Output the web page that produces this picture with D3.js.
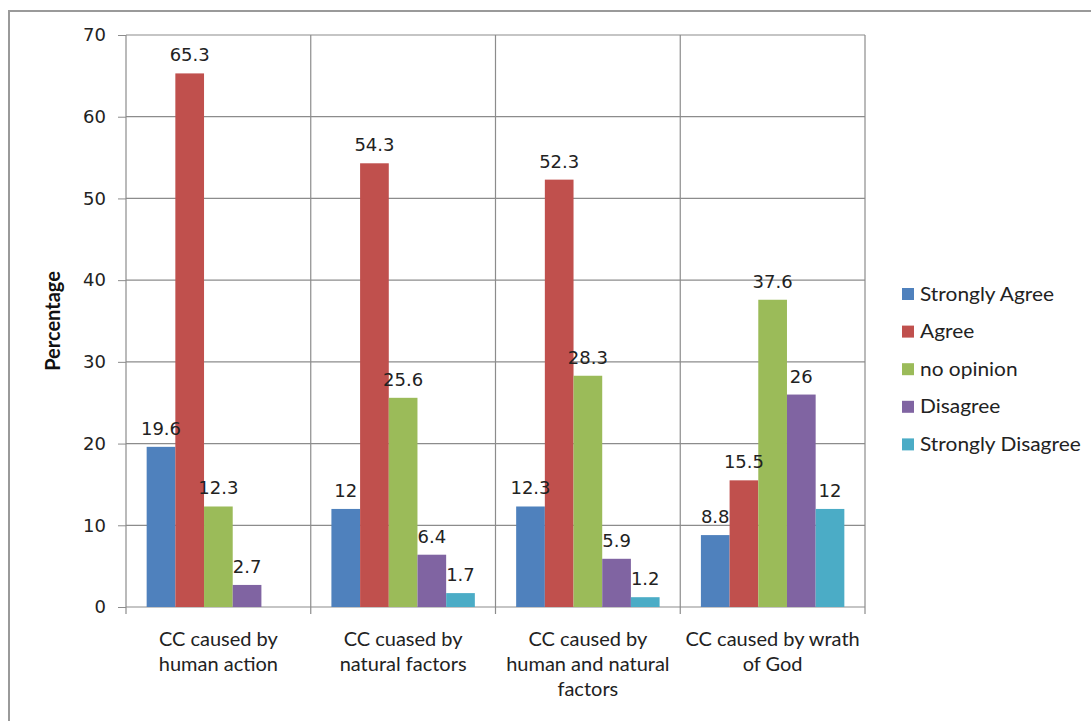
<!DOCTYPE html>
<html>
<head>
<meta charset="utf-8">
<script src="https://cdn.jsdelivr.net/npm/d3@7/dist/d3.min.js"></script>
<style>
  html, body { margin: 0; padding: 0; background: #fff; }
  svg { display: block; }
</style>
</head>
<body>
<svg id="chart" width="1091" height="721"></svg>
<script>
// Survey responses on causes of climate change (CC), in percent
const categories = [
  ["CC caused by", "human action"],
  ["CC cuased by", "natural factors"],
  ["CC caused by", "human and natural", "factors"],
  ["CC caused by wrath", "of God"]
];
const seriesNames = ["Strongly Agree", "Agree", "no opinion", "Disagree", "Strongly Disagree"];
const strongAgree    = [19.6, 12, 12.3, 8.8];
const agree          = [65.3, 54.3, 52.3, 15.5];
const noOpinion      = [12.3, 25.6, 28.3, 37.6];
const disagree       = [2.7, 6.4, 5.9, 26];
const strongDisagree = [null, 1.7, 1.2, 12];
const yTicks = [0, 10, 20, 30, 40, 50, 60, 70];
const colors = ["#4F81BD", "#C0504D", "#9BBB59", "#8064A2", "#4BACC6"];

const seriesValues = [strongAgree, agree, noOpinion, disagree, strongDisagree];

const svg = d3.select("#chart");
const plot = { left: 126, right: 865, top: 35, bottom: 607 };

// Outer frame (only top and left edges fall inside the view)
svg.append("rect")
  .attr("x", 9).attr("y", 11)
  .attr("width", 1200).attr("height", 900)
  .attr("fill", "none").attr("stroke", "#9a9a9a").attr("stroke-width", 2);

const x0 = d3.scaleBand()
  .domain(d3.range(categories.length))
  .range([plot.left, plot.right])
  .paddingInner(0).paddingOuter(0);

const x1 = d3.scaleBand()
  .domain(d3.range(seriesNames.length))
  .range([0, x0.bandwidth()])
  .paddingOuter(0.72).paddingInner(0);

const y = d3.scaleLinear().domain([0, 70]).range([plot.bottom, plot.top]);

const gridColor = "#8c8c8c";

// Horizontal gridlines with left tick marks
const yAxis = d3.axisLeft(y).tickValues(yTicks).tickSize(8).tickPadding(12).tickFormat(d3.format("d"));
const gy = svg.append("g").attr("transform", `translate(${plot.left},0)`).call(yAxis);
gy.select(".domain").remove();
gy.selectAll(".tick line").attr("stroke", gridColor);
gy.selectAll(".tick text")
  .attr("font-family", "DejaVu Sans, Verdana, sans-serif")
  .attr("font-size", 18).attr("fill", "#222");

svg.append("g").selectAll("line")
  .data(yTicks)
  .join("line")
  .attr("x1", plot.left).attr("x2", plot.right)
  .attr("y1", d => y(d)).attr("y2", d => y(d))
  .attr("stroke", gridColor).attr("stroke-width", 1.2);

// Vertical gridlines at category boundaries (extend below the axis as ticks)
const boundaries = d3.range(categories.length + 1).map(i => i < categories.length ? x0(i) : x0(categories.length - 1) + x0.bandwidth());
svg.append("g").selectAll("line")
  .data(boundaries)
  .join("line")
  .attr("x1", d => d).attr("x2", d => d)
  .attr("y1", plot.top).attr("y2", plot.bottom + 7)
  .attr("stroke", gridColor).attr("stroke-width", 1.2);

// Bars
const groups = svg.append("g").selectAll("g")
  .data(categories.map((c, i) => i))
  .join("g")
  .attr("transform", i => `translate(${x0(i)},0)`);

groups.selectAll("rect")
  .data(i => seriesValues.map((s, k) => ({ k, v: s[i] })).filter(d => d.v != null))
  .join("rect")
  .attr("x", d => x1(d.k))
  .attr("width", x1.bandwidth())
  .attr("y", d => y(d.v))
  .attr("height", d => y(0) - y(d.v))
  .attr("fill", d => colors[d.k]);

// Value labels
groups.selectAll("text")
  .data(i => seriesValues.map((s, k) => ({ k, v: s[i] })).filter(d => d.v != null))
  .join("text")
  .attr("x", d => x1(d.k) + x1.bandwidth() / 2)
  .attr("y", d => y(d.v) - 12)
  .attr("text-anchor", "middle")
  .attr("font-family", "DejaVu Sans, Verdana, sans-serif")
  .attr("font-size", 18)
  .attr("fill", "#222")
  .text(d => d.v);

// Category labels
const catLabels = svg.append("g").selectAll("text")
  .data(categories)
  .join("text")
  .attr("x", (d, i) => x0(i) + x0.bandwidth() / 2)
  .attr("y", 646)
  .attr("text-anchor", "middle")
  .attr("font-family", "Lato, sans-serif")
  .attr("font-size", 20)
  .attr("fill", "#222");
catLabels.selectAll("tspan")
  .data(d => d)
  .join("tspan")
  .attr("x", function () { return this.parentNode.getAttribute("x"); })
  .attr("dy", (d, j) => j === 0 ? 0 : 25)
  .text(d => d);

// Y axis title
svg.append("text")
  .attr("transform", `translate(60,${(plot.top + plot.bottom) / 2}) rotate(-90)`)
  .attr("text-anchor", "middle")
  .attr("font-family", "Lato, sans-serif")
  .attr("font-weight", "bold")
  .attr("font-size", 20)
  .attr("fill", "#111")
  .text("Percentage");

// Legend
const legend = svg.append("g").attr("transform", "translate(902,294)");
const rows = legend.selectAll("g")
  .data(seriesNames)
  .join("g")
  .attr("transform", (d, i) => `translate(0,${i * 37.6})`);
rows.append("rect")
  .attr("x", 0).attr("y", -6)
  .attr("width", 12).attr("height", 12)
  .attr("fill", (d, i) => colors[i]);
rows.append("text")
  .attr("transform", "translate(18,6.5) scale(1.1,1)")
  .attr("font-family", "Lato, sans-serif")
  .attr("font-size", 19)
  .attr("fill", "#222")
  .text(d => d);
</script>
</body>
</html>
